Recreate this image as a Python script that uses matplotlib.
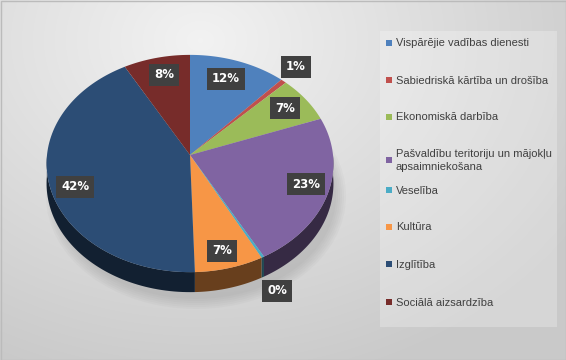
import numpy as np
import matplotlib
matplotlib.use('Agg')
import matplotlib.pyplot as plt
from matplotlib.patches import Polygon, Rectangle, Ellipse

categories = ['Vispārējie vadības dienesti', 'Sabiedriskā kārtība un drošība',
              'Ekonomiskā darbība', 'Pašvaldību teritoriju un mājokļu\napsaimniekošana',
              'Veselība', 'Kultūra', 'Izglītība', 'Sociālā aizsardzība']
values = [11.8, 0.7, 6.9, 22.6, 0.3, 7.2, 42.4, 8.1]
colors = ['#4F81BD', '#C0504D', '#9BBB59', '#8064A2', '#4BACC6', '#F79646', '#2C4D75', '#772C2A']
# where the value boxes sit (pixels)
label_pos = [(226, 79), (296, 67), (285, 108), (306, 184), (277, 291), (222, 251), (75, 187), (164, 75)]

W, H = 566, 360
fig = plt.figure(figsize=(W / 100, H / 100), dpi=100)
ax = fig.add_axes([0, 0, 1, 1])
ax.set_xlim(0, W)
ax.set_ylim(H, 0)
ax.axis('off')

# background gradient
yy, xx = np.mgrid[0:H, 0:W]
d = np.sqrt(((xx - 200) / 420.0) ** 2 + ((yy - 40) / 330.0) ** 2)
g = np.clip(0.95 - 0.15 * d, 0.79, 0.95)
ax.imshow(np.dstack([g, g, g]), extent=(0, W, H, 0), zorder=0)
ax.add_patch(Rectangle((0.5, 0.5), W - 1, H - 1, fill=False, ec='#BBBBBB', lw=1, zorder=1))

# pie seen in perspective from above / front
vx, vy = 190, 155
s = 143.0
sin_el = 0.755
cdist = np.sqrt(1 - sin_el ** 2)
D = 8.37
depth = 20


def project(th):
    f = D / (D + cdist * np.sin(th))
    return vx + s * np.cos(th) * f, vy - s * sin_el * np.sin(th) * f


def darker(c, f):
    r, g_, b = matplotlib.colors.to_rgb(c)
    return (r * f, g_ * f, b * f)


# soft shadow
for k in range(6):
    ax.add_patch(Ellipse((vx + 6, 170 + depth + 6), 2 * s + 14 - 4 * k, 226 - 4 * k,
                         fc='#808080', ec='none', alpha=0.05, zorder=1))

fr = np.array(values) / float(sum(values))
edges = 90 - 360 * np.concatenate([[0], np.cumsum(fr)])

for i in range(len(values)):
    t = np.radians(np.linspace(edges[i], edges[i + 1], 100))
    px, py = project(t)
    # side wall on the front half
    front = np.sin(t) < 0
    if front.sum() > 1:
        sx, sy = px[front], py[front]
        poly = np.column_stack([np.concatenate([sx, sx[::-1]]),
                                np.concatenate([sy, sy[::-1] + depth])])
        ax.add_patch(Polygon(poly, closed=True, fc=darker(colors[i], 0.42), ec='none', zorder=2))
    top = np.column_stack([np.concatenate([[vx], px]), np.concatenate([[vy], py])])
    ax.add_patch(Polygon(top, closed=True, fc=colors[i], ec='none', zorder=3))

# value labels
for i, (lx, ly) in enumerate(label_pos):
    ax.text(lx, ly, '%.0f%%' % (100 * fr[i]), ha='center', va='center', color='white',
            fontsize=8.5, fontweight='bold', family='DejaVu Sans', zorder=5,
            bbox=dict(boxstyle='square,pad=0.4', fc='#404040', ec='none'))

# legend
ax.add_patch(Rectangle((380, 31), 177, 296, fc='white', ec='none', alpha=0.25, zorder=1))
leg_y = [43, 80, 117, 160, 190, 227, 264, 302]
for i, lab in enumerate(categories):
    ax.add_patch(Rectangle((386, leg_y[i] - 3), 6, 6, fc=colors[i], ec='none', zorder=4))
    ax.text(396, leg_y[i] + 0.5, lab, ha='left', va='center', fontsize=8, color='#404040',
            family='Liberation Sans', linespacing=1.45, zorder=4)

fig.savefig('out.png', dpi=100)
